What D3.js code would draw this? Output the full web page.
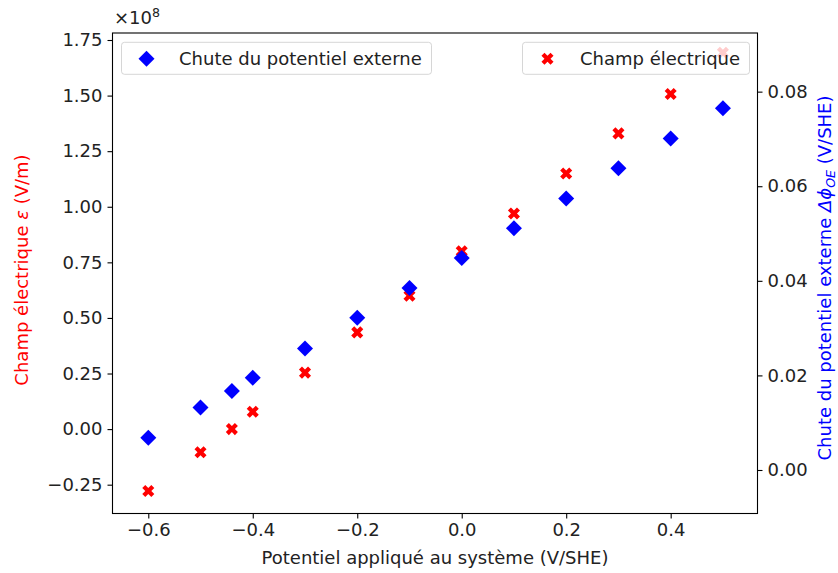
<!DOCTYPE html>
<html><head><meta charset="utf-8">
<script src="https://cdn.jsdelivr.net/npm/d3@7"></script>
<style>body{margin:0;background:#fff} text{font-family:"DejaVu Sans",sans-serif}</style>
</head><body><svg id="c" width="838" height="573"></svg>
<script>
const potentials = [-0.6,-0.5,-0.44,-0.4,-0.3,-0.2,-0.1,0,0.1,0.2,0.3,0.4,0.5];
const champElectrique = [-2.78e7,-1.04e7,0.0e7,0.78e7,2.54e7,4.35e7,6.0e7,8.0e7,9.7e7,1.15e8,1.33e8,1.507e8,1.693e8];
const chutePotentiel = [0.0068,0.0132,0.0167,0.0195,0.0257,0.0322,0.0385,0.0448,0.0511,0.0574,0.0638,0.0701,0.0765];
const xTicks = [-0.6,-0.4,-0.2,0,0.2,0.4];
const leftTicks = [-0.25e8,0,0.25e8,0.5e8,0.75e8,1e8,1.25e8,1.5e8,1.75e8];
const rightTicks = [0,0.02,0.04,0.06,0.08];
const labels = {
  x: "Potentiel appliqué au système (V/SHE)",
  legendE: "Champ électrique",
  legendV: "Chute du potentiel externe"
};

const W=838,H=573, L=112.5, R=757.5, T=33, B=513.5;
const FS=18;
const svg=d3.select("#c");
const x=d3.scaleLinear().domain([-0.6685,0.5662]).range([L,R]);
const yL=d3.scaleLinear().domain([-0.3796e8,1.7815e8]).range([B,T]);
const yR=d3.scaleLinear().domain([-0.0092,0.0924]).range([B,T]);
const minus=s=>s.replace("-","\u2212");

// axes
const gx=svg.append("g").attr("transform",`translate(0,${B})`)
  .call(d3.axisBottom(x).tickValues(xTicks).tickSize(5).tickPadding(5).tickFormat(d=>minus(d3.format(".1f")(d))));
const gl=svg.append("g").attr("transform",`translate(${L},0)`)
  .call(d3.axisLeft(yL).tickValues(leftTicks).tickSize(5).tickPadding(5).tickFormat(d=>minus(d3.format(".2f")(d/1e8))));
const gr=svg.append("g").attr("transform",`translate(${R},0)`)
  .call(d3.axisRight(yR).tickValues(rightTicks).tickSize(5).tickPadding(5).tickFormat(d=>minus(d3.format(".2f")(d))));
[gx,gl,gr].forEach(g=>{
  g.select(".domain").remove();
  g.selectAll("line").attr("stroke","#000").attr("stroke-width",1.1);
  g.selectAll("text").attr("font-size",FS).attr("fill","#222").attr("font-family","DejaVu Sans");
});
svg.append("rect").attr("x",L).attr("y",T).attr("width",R-L).attr("height",B-T)
  .attr("fill","none").attr("stroke","#000").attr("stroke-width",1.1);

// markers
const xPath=(()=>{const p=[[-1,-3],[1,-3],[1,-1],[3,-1],[3,1],[1,1],[1,3],[-1,3],[-1,1],[-3,1],[-3,-1],[-1,-1]];
  const S=12.8, c=Math.SQRT1_2;
  return "M"+p.map(([a,b])=>{const u=a/6*S,v=b/6*S;return [(u-v)*c,(u+v)*c].map(n=>n.toFixed(2)).join(",");}).join("L")+"Z";})();
const dPath="M0,-8L8,0L0,8L-8,0Z";

// red points
svg.append("g").selectAll("path").data(potentials).join("path")
  .attr("d",xPath).attr("fill","#ff0000")
  .attr("transform",(d,i)=>`translate(${x(d)},${yL(champElectrique[i])})`);

function legend(x0,y0,w,label,path,color){
  const g=svg.append("g");
  g.append("rect").attr("x",x0).attr("y",y0).attr("width",w).attr("height",32).attr("rx",3)
   .attr("fill","#fff").attr("fill-opacity",0.8).attr("stroke","#cccccc").attr("stroke-opacity",0.8).attr("stroke-width",1);
  g.append("path").attr("d",path).attr("fill",color).attr("transform",`translate(${x0+25},${y0+16.5})`);
  g.append("text").attr("x",x0+57.5).attr("y",y0+16).attr("dy","0.36em").attr("font-size",FS).attr("fill","#222").text(label);
}
legend(522.5,42.3,227,labels.legendE,xPath,"#ff0000");

// blue points
svg.append("g").selectAll("path").data(potentials).join("path")
  .attr("d",dPath).attr("fill","#0000ff")
  .attr("transform",(d,i)=>`translate(${x(d)},${yR(chutePotentiel[i])})`);
legend(121.5,42.3,310,labels.legendV,dPath,"#0000ff");

// offset text
const off=svg.append("text").attr("x",114).attr("y",24).attr("font-size",FS).attr("fill","#222");
off.append("tspan").text("×10");
off.append("tspan").attr("font-size",FS*0.7).attr("dy",-7).text("8");

// x label
svg.append("text").attr("x",(L+R)/2).attr("y",564).attr("text-anchor","middle").attr("font-size",FS).attr("fill","#222").text(labels.x);

// left label
const ll=svg.append("text").attr("transform",`translate(28,270) rotate(-90)`).attr("text-anchor","middle").attr("font-size",FS).attr("fill","#ff0000");
ll.append("tspan").text("Champ électrique ");
ll.append("tspan").attr("font-style","italic").text("ε");
ll.append("tspan").text(" (V/m)");

// right label
const rl=svg.append("text").attr("transform",`translate(831,278) rotate(-90)`).attr("text-anchor","middle").attr("font-size",FS).attr("fill","#0000ff");
rl.append("tspan").text("Chute du potentiel externe ");
rl.append("tspan").attr("font-style","italic").text("Δϕ");
rl.append("tspan").attr("font-style","italic").attr("font-size",FS*0.7).attr("dy",4).text("OE");
rl.append("tspan").attr("dy",-4).text(" (V/SHE)");
</script></body></html>
